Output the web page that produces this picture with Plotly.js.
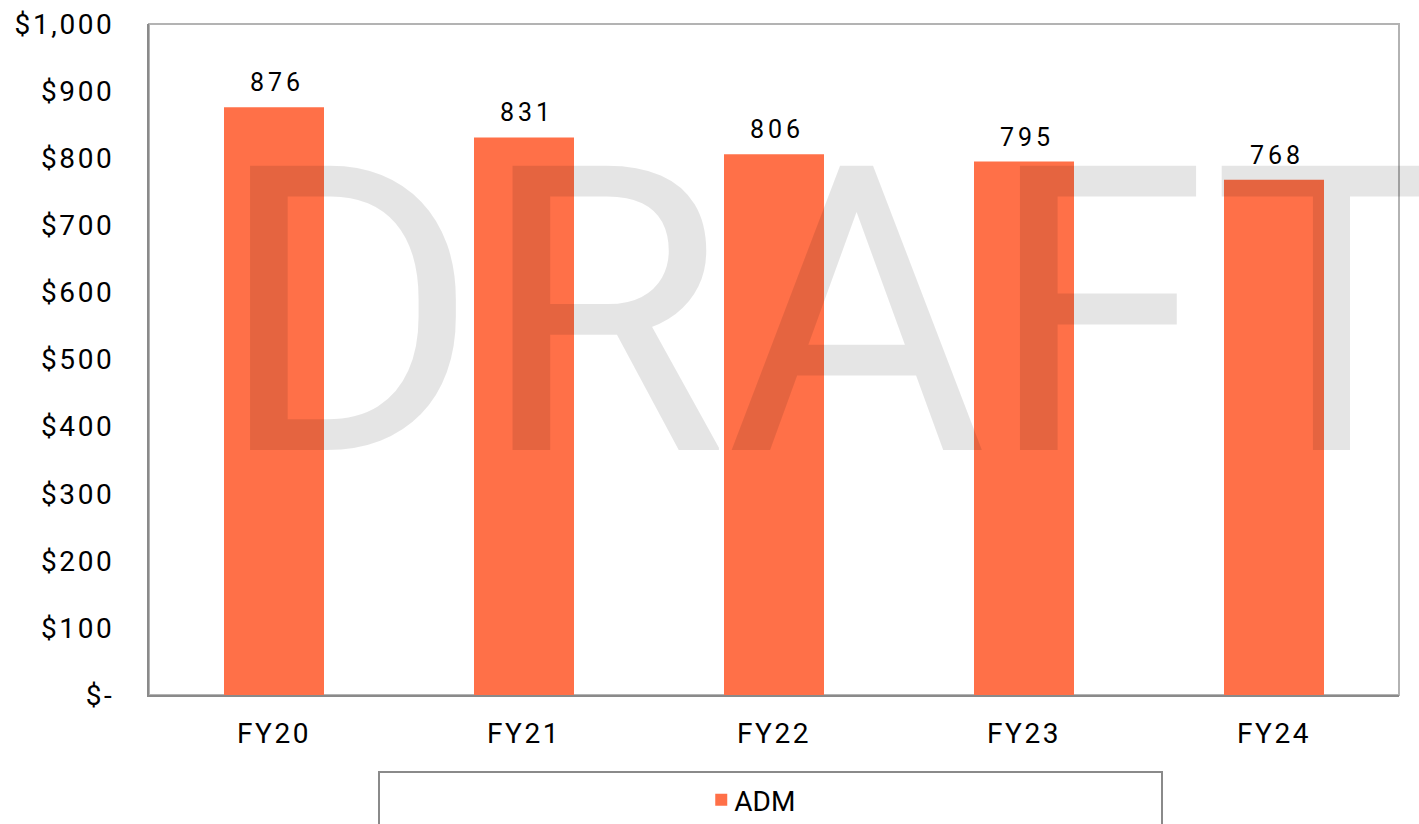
<!DOCTYPE html>
<html>
<head>
<meta charset="utf-8">
<script src="https://cdn.plot.ly/plotly-3.0.1.min.js"></script>
<style>
html,body{margin:0;padding:0;background:#fff;}
#chart{width:1419px;height:824px;}
#chart .xtick text, #chart .ytick text { letter-spacing: 2.6px; }
#chart .annotation text { letter-spacing: 4px; }
#chart .annotation[data-index="0"] text { letter-spacing: 0px; }
#chart .legend .legendtext { transform: translateX(-7px); }
</style>
</head>
<body>
<div id="chart"></div>
<script>
const categories = ["FY20", "FY21", "FY22", "FY23", "FY24"];
const admValues = [876, 831, 806, 795, 768];
const seriesName = "ADM";
const yTickVals = [0, 100, 200, 300, 400, 500, 600, 700, 800, 900, 1000];
const yTickText = ["$-", "$100", "$200", "$300", "$400", "$500", "$600", "$700", "$800", "$900", "$1,000"];
const watermark = "DRAFT";

const FONT = "Roboto, 'Noto Sans', Arial, sans-serif";

const trace = {
  type: "bar",
  x: categories,
  y: admValues,
  name: seriesName,
  marker: {color: "#FF7048", line: {width: 0}},
  hoverinfo: "x+y"
};

const watermarkAnnotation = {
  xref: "paper", yref: "paper", x: 0.0524, y: 0.5683,
  xanchor: "left", yanchor: "middle",
  text: watermark, showarrow: false,
  font: {family: FONT, size: 400, color: "rgba(0,0,0,0.1)"}
};

const labelAnnotations = categories.map((c, i) => ({
  x: c, y: admValues[i], xref: "x", yref: "y",
  text: String(admValues[i]), showarrow: false,
  yanchor: "bottom", yshift: 8, xshift: 3,
  font: {family: FONT, size: 25, color: "#000"}
}));

const layout = {
  width: 1419, height: 824,
  margin: {l: 149, r: 20, t: 24, b: 129, autoexpand: false},
  paper_bgcolor: "#fff", plot_bgcolor: "#fff",
  font: {family: FONT, size: 28, color: "#000"},
  bargap: 0.6,
  showlegend: true,
  legend: {
    x: 0.4846, y: -0.1565, xanchor: "center", yanchor: "middle",
    orientation: "h", bgcolor: "rgba(0,0,0,0)", itemwidth: 30,
    font: {family: FONT, size: 28, color: "#000"}
  },
  xaxis: {
    type: "category", automargin: false,
    showgrid: false, zeroline: false,
    showline: true, linecolor: "#8a8a8a", linewidth: 2,
    ticks: "", ticklabelstandoff: 12,
    tickfont: {family: FONT, size: 28, color: "#000"},
    fixedrange: true
  },
  yaxis: {
    range: [0, 1000], automargin: false,
    tickvals: yTickVals, ticktext: yTickText,
    showgrid: false, zeroline: false,
    showline: true, linecolor: "#8a8a8a", linewidth: 2,
    ticks: "", ticklabelstandoff: 27,
    tickfont: {family: FONT, size: 28, color: "#000"},
    fixedrange: true
  },
  shapes: [
    {type: "rect", xref: "paper", yref: "paper", x0: 0, x1: 1, y0: 0, y1: 1,
     line: {color: "#b3b3b3", width: 2}, fillcolor: "rgba(0,0,0,0)", layer: "below"},
    {type: "rect", xref: "paper", yref: "paper", x0: 0.184, x1: 0.8104, y0: -0.1148, y1: -0.25,
     line: {color: "#8a8a8a", width: 2}, fillcolor: "rgba(0,0,0,0)"}
  ],
  annotations: [watermarkAnnotation].concat(labelAnnotations)
};

Plotly.newPlot("chart", [trace], layout, {displayModeBar: false, staticPlot: true});
</script>
</body>
</html>
